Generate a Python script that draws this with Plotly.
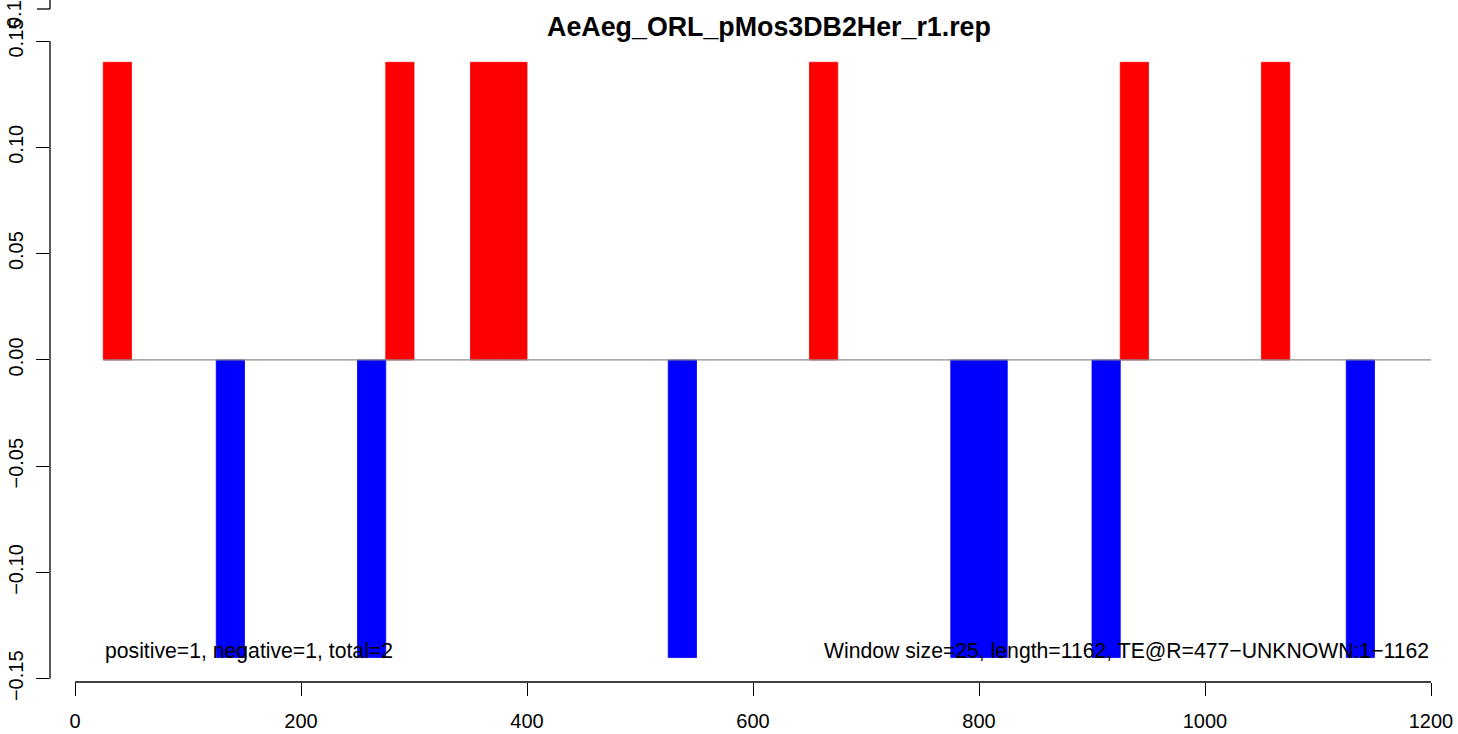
import plotly.graph_objects as go

# Data: window starts (bp) and values
window_size = 25
pos_starts = [25, 275, 350, 375, 650, 925, 1050]
pos_values = [0.14, 0.14, 0.14, 0.14, 0.14, 0.14, 0.14]
neg_starts = [125, 250, 525, 775, 800, 900, 1125]
neg_values = [-0.14, -0.14, -0.14, -0.14, -0.14, -0.14, -0.14]
x_ticks = [0, 200, 400, 600, 800, 1000, 1200]
y_ticks = [-0.15, -0.10, -0.05, 0.00, 0.05, 0.10, 0.15]
y_tick_text = ["\u22120.15", "\u22120.10", "\u22120.05", "0.00", "0.05", "0.10", "0.15"]
title_text = "AeAeg_ORL_pMos3DB2Her_r1.rep"
left_text = "positive=1, negative=1, total=2"
right_text = "Window size=25, length=1162, TE@R=477\u2212UNKNOWN:1\u22121162"
line_start, line_end = 25, 1200
text_y = -0.137

W, H = 1458, 734
ml, mr, mt, mb = 50, 2, 0, 52
x_range = [-22.12, 1222.12]
y_range = [-0.1515, 0.1693]

FONT = "Liberation Sans, Arial, Helvetica, sans-serif"
PW = W - ml - mr
PH = H - mt - mb

fig = go.Figure()
fig.add_trace(go.Bar(x=pos_starts, y=pos_values, width=window_size, offset=0,
                     marker=dict(color="#FF0000", line=dict(width=0.8, color="#FF0000")),
                     showlegend=False))
fig.add_trace(go.Bar(x=neg_starts, y=neg_values, width=window_size, offset=0,
                     marker=dict(color="#0000FF", line=dict(width=0.8, color="#0000FF")),
                     showlegend=False))

# zero line
fig.add_shape(type="line", x0=line_start, x1=line_end, y0=0, y1=0, xref="x", yref="y",
              line=dict(color="#8c8c8c", width=1.3))
# x axis line (R style, tick range only)
fig.add_shape(type="line", x0=x_ticks[0], x1=x_ticks[-1], y0=0, y1=0, xref="x", yref="paper",
              line=dict(color="black", width=1.3))
# y axis line
fig.add_shape(type="line", x0=0, x1=0, y0=y_ticks[0], y1=y_ticks[-1], xref="paper", yref="y",
              line=dict(color="black", width=1.3))

# overplotted stray axis fragment at top (as in reference)
top_px = 9
ty = 1 - top_px / PH
fig.add_shape(type="line", x0=0, x1=0, y0=ty, y1=1.03, xref="paper", yref="paper",
              line=dict(color="black", width=1.3))
fig.add_shape(type="line", x0=-13 / PW, x1=0, y0=ty, y1=ty, xref="paper", yref="paper",
              line=dict(color="black", width=1.3))
fig.add_annotation(text="0.15", x=-36 / PW, y=ty, xref="paper", yref="paper",
                   textangle=-90, showarrow=False, xanchor="center", yanchor="middle",
                   font=dict(family=FONT, size=20, color="black"))

fig.add_annotation(text=left_text, x=line_start, y=text_y, xref="x", yref="y",
                   xanchor="left", yanchor="middle", showarrow=False,
                   font=dict(family=FONT, size=21.2, color="black"))
fig.add_annotation(text=right_text, x=line_end, y=text_y, xref="x", yref="y",
                   xanchor="right", yanchor="middle", showarrow=False,
                   font=dict(family=FONT, size=21.2, color="black"))

fig.update_layout(
    width=W, height=H,
    margin=dict(l=ml, r=mr, t=mt, b=mb, autoexpand=False),
    paper_bgcolor="white", plot_bgcolor="white",
    title=dict(text="<b>" + title_text + "</b>", x=(769 - ml) / PW, xref="paper",
               xanchor="center", y=1 - 27 / H, yref="container", yanchor="middle",
               font=dict(family=FONT, size=26.8, color="black")),
    xaxis=dict(range=x_range, tickvals=x_ticks, ticktext=[str(v) for v in x_ticks],
               showgrid=False, zeroline=False, showline=False,
               ticks="outside", ticklen=13, tickwidth=1.3, tickcolor="black",
               ticklabelstandoff=8, automargin=False,
               tickfont=dict(family=FONT, size=20, color="black")),
    yaxis=dict(range=y_range, tickvals=y_ticks, ticktext=y_tick_text,
               showgrid=False, zeroline=False, showline=False,
               ticks="outside", ticklen=13, tickwidth=1.3, tickcolor="black",
               tickangle=-90, ticklabelstandoff=5, automargin=False,
               tickfont=dict(family=FONT, size=20, color="black")),
    barmode="overlay",
)

# remove the browser's default 8px body margin so the figure fills the window
fig.write_html("out.html", config={"displayModeBar": False},
               post_script="document.body.style.margin='0';document.body.style.overflow='hidden';")
